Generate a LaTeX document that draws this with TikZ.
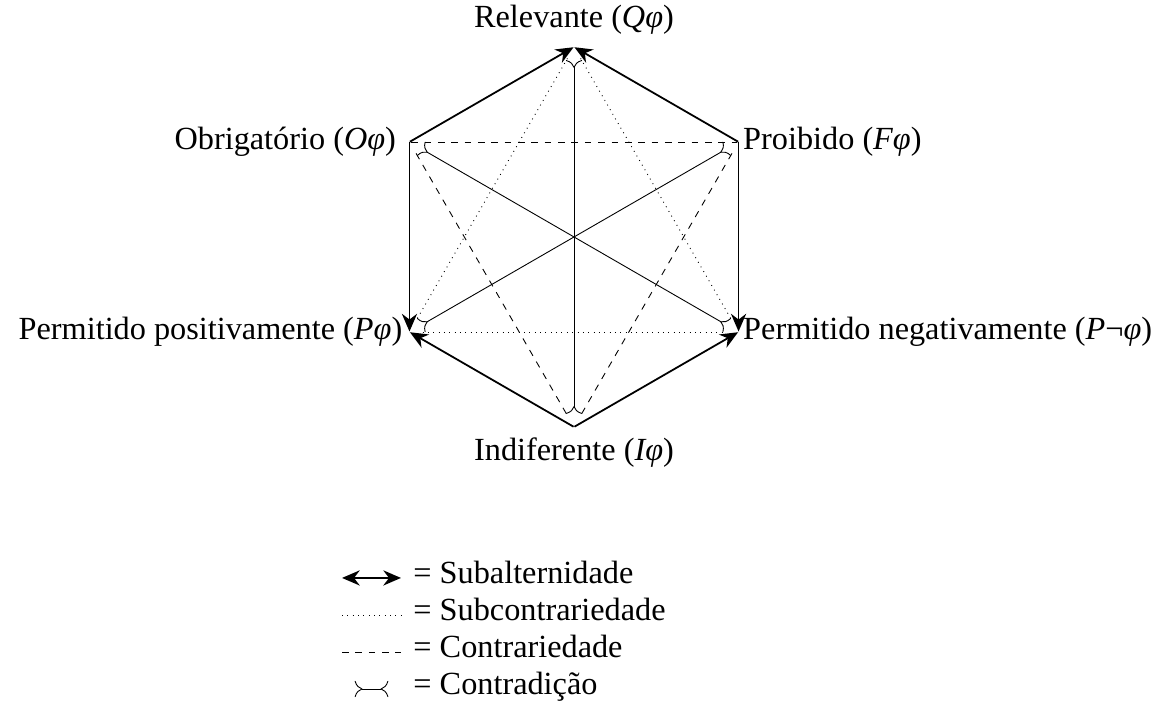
\documentclass[tikz,border=0pt]{standalone}
\usepackage{fontspec}
\setmainfont{Liberation Serif}
\usetikzlibrary{arrows.meta}
\begin{document}
\begin{tikzpicture}[
  v/.style={inner sep=0pt, minimum size=0pt},
  lbl/.style={inner sep=0pt, font=\fontsize{14.5}{17}\selectfont},
  sub/.style={thick, -{Stealth[length=2.8mm,width=2.4mm]}},
  subleg/.style={thick, {Stealth[length=2.8mm,width=2.4mm]}-{Stealth[length=2.8mm,width=2.4mm]}},
  ctd/.style={{To[reversed,scale=1.4]}-{To[reversed,scale=1.4]}, shorten <=0.2cm, shorten >=0.2cm},
  ctr/.style={dashed},
  sct/.style={dotted},
  label distance=0.06cm
]
\useasboundingbox (-9.064,-7.390) rectangle (9.237,3.742);
% vertices
\node[v, label={[lbl, label distance=0.19cm]above:Relevante (\textit{Qφ})}] (Q) at (90:3) {};
\node[v, label={[lbl, label distance=0.2cm]left:Obrigatório (\textit{Oφ})}] (O) at (150:3) {};
\node[v, label={[lbl]right:Proibido (\textit{Fφ})}] (F) at (30:3) {};
\node[v, label={[lbl, label distance=0.1cm]left:Permitido positivamente (\textit{Pφ})}] (P) at (210:3) {};
\node[v, label={[lbl]right:Permitido negativamente (\textit{P}¬\textit{φ})}] (N) at (330:3) {};
\node[v, label={[lbl, label distance=0.15cm]below:Indiferente (\textit{Iφ})}] (I) at (270:3) {};
% subalternation
\draw[sub] (O) -- (Q);
\draw[sub] (F) -- (Q);
\draw[sub] (O) -- (P);
\draw[sub] (F) -- (N);
\draw[sub] (I) -- (P);
\draw[sub] (I) -- (N);
% contrariety
\draw[ctr, shorten <=0.02cm, shorten >=0.02cm] (O) -- (F);
\draw[ctr, shorten <=0.2cm, shorten >=0.2cm] (O) -- (I);
\draw[ctr, shorten <=0.2cm, shorten >=0.2cm] (F) -- (I);
% subcontrariety
\draw[sct, shorten <=0.2cm, shorten >=0.2cm] (Q) -- (P);
\draw[sct, shorten <=0.2cm, shorten >=0.2cm] (Q) -- (N);
\draw[sct, shorten <=0.2cm, shorten >=0.2cm] (P) -- (N);
% contradiction
\draw[ctd] (I) -- (Q);
\draw[ctd] (P) -- (F);
\draw[ctd] (N) -- (O);
% legend
\foreach \i/\y in {1/-5.384,2/-5.969,3/-6.553,4/-7.137}{
  \coordinate (a\i) at (-3.663,\y);
  \coordinate (b\i) at (-2.732,\y);
}
\draw[subleg] (a1) -- (b1);
\draw[sct] (a2) -- (b2);
\draw[ctr] (a3) -- (b3);
\draw[ctd] (a4) -- (b4);
\node[lbl, anchor=mid west] (t1) at (-2.542,-5.384) {= Subalternidade};
\node[lbl, anchor=mid west] (t2) at (-2.542,-5.969) {= Subcontrariedade};
\node[lbl, anchor=mid west] (t3) at (-2.542,-6.553) {= Contrariedade};
\node[lbl, anchor=mid west] (t4) at (-2.542,-7.137) {= Contradição};
\end{tikzpicture}
\end{document}
